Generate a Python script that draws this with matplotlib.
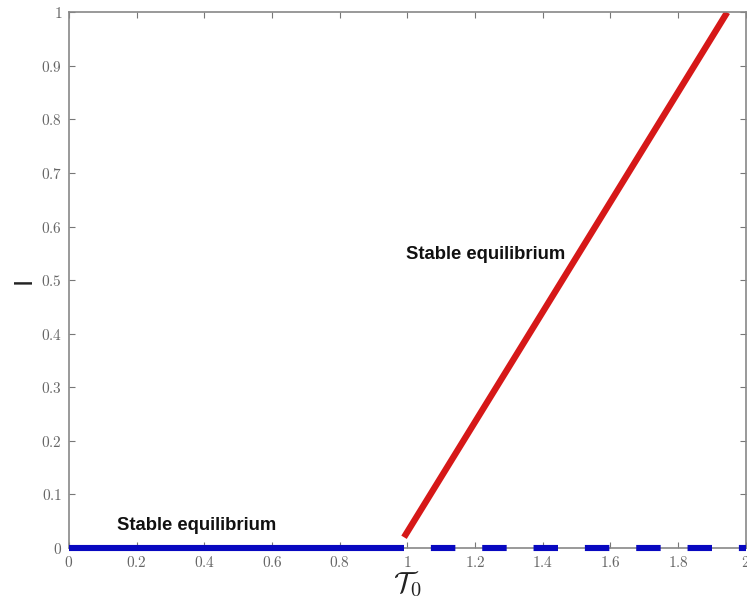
import matplotlib
matplotlib.use('Agg')
import matplotlib.pyplot as plt
from matplotlib.ticker import FuncFormatter, MultipleLocator

plt.rcParams['mathtext.fontset'] = 'cm'

# branch data
tau_zero = [0.0, 0.99]
i_zero = [0.0, 0.0]
tau_unstable = [0.99, 2.0]
i_unstable = [0.0, 0.0]
tau_red = [0.99, 1.945]
i_red = [0.02, 1.0]

labels = ['Stable equilibrium', 'Stable equilibrium']
label_x = [0.142, 0.997]
label_y = [0.042, 0.547]

fig = plt.figure(figsize=(7.47, 6.08), dpi=100)
ax = fig.add_axes([0.0924, 0.0987, 0.906, 0.881])

ax.plot(tau_zero, i_zero, color='#0808c0', linewidth=4.4, solid_capstyle='butt',
        zorder=3, clip_on=False)
ax.plot(tau_unstable, i_unstable, color='#0808c0', linewidth=4.4,
        linestyle=(4, (4, 4.4)), dash_capstyle='butt', zorder=3, clip_on=False)
ax.plot(tau_red, i_red, color='#d61818', linewidth=4.6, solid_capstyle='butt', zorder=2)

for t, x, y in zip(labels, label_x, label_y):
    ax.text(x, y, t, fontsize=13.3, fontweight='bold', family='Liberation Sans',
            color='#111111', ha='left', va='center')

ax.set_xlim(0, 2)
ax.set_ylim(0, 1)
ax.xaxis.set_major_locator(MultipleLocator(0.2))
ax.yaxis.set_major_locator(MultipleLocator(0.1))
fmt = FuncFormatter(lambda v, p: '$%g$' % round(v, 2))
ax.xaxis.set_major_formatter(fmt)
ax.yaxis.set_major_formatter(fmt)
ax.tick_params(direction='in', length=4, width=0.8, color='#777777',
               labelcolor='#666666', labelsize=11, top=True, right=True, pad=5)
for s in ax.spines.values():
    s.set_color('#888888')
    s.set_linewidth(1.2)

ax.set_xlabel(r'$\mathcal{T}_0$', fontsize=21, labelpad=0, color='#222222')
ax.set_ylabel('I', fontsize=19, family='Liberation Sans', labelpad=4, color='#222222')

fig.savefig('out.png', dpi=100)
